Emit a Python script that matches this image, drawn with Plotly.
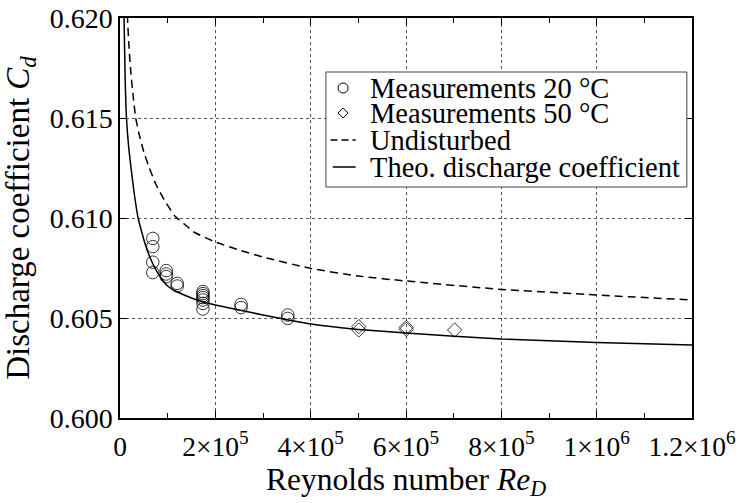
import plotly.graph_objects as go

# ---- data ----
re_20 = [68800, 68800, 68800, 68800,
         97000, 97000, 97000,
         120000, 120000,
         174000, 174000, 174000, 174000, 174000, 174000, 174000,
         254000, 254000,
         352000, 352000]
cd_20 = [0.60898, 0.60857, 0.60779, 0.60727,
         0.60737, 0.60720, 0.60707,
         0.60673, 0.60660,
         0.60632, 0.60622, 0.60612, 0.60602, 0.60590, 0.60573, 0.60545,
         0.60568, 0.60552,
         0.60515, 0.60498]

re_50 = [501000, 501000, 600600, 600600, 702000]
cd_50 = [0.60457, 0.60440, 0.60453, 0.60443, 0.60440]

re_und = [14000, 15700, 19000, 23000, 28000, 33000, 40000, 50000, 60000, 75000,
          93000, 115000, 135000, 155000, 200000, 250000, 300000, 400000, 500000,
          600000, 800000, 1000000, 1200000]
cd_und = [0.6208, 0.6200, 0.6185, 0.6172, 0.6160, 0.6150, 0.6142, 0.6133, 0.6126, 0.6117,
          0.6109, 0.6101, 0.6097, 0.6093, 0.6088, 0.6084, 0.60805, 0.60748, 0.6071,
          0.60685, 0.60643, 0.60615, 0.6059]

re_theo = [7500, 8500, 11000, 13600, 18000, 22700, 30000, 38000, 45000, 54000, 69000,
           86000, 100000, 121000, 150000, 200000, 250000, 300000, 400000, 500000,
           600000, 800000, 1000000, 1200000]
cd_theo = [0.6215, 0.6200, 0.6168, 0.6150, 0.6136, 0.6126, 0.6112, 0.6100, 0.60935, 0.6086, 0.6077,
           0.6070, 0.6066, 0.6063, 0.6060, 0.60565, 0.6054, 0.60515, 0.6047, 0.60443,
           0.60425, 0.60395, 0.60378, 0.60365]

x_tickvals = [0, 200000, 400000, 600000, 800000, 1000000, 1200000]
x_ticktext = ["0", "2×10<sup>5</sup>", "4×10<sup>5</sup>", "6×10<sup>5</sup>",
              "8×10<sup>5</sup>", "1×10<sup>6</sup>", "1.2×10<sup>6</sup>"]
y_tickvals = [0.600, 0.605, 0.610, 0.615, 0.620]
y_ticktext = ["0.600", "0.605", "0.610", "0.615", "0.620"]

legend_labels = ["Measurements 20 °C", "Measurements 50 °C", "Undisturbed",
                 "Theo. discharge coefficient"]

FONT = "Liberation Serif, Times New Roman, serif"

fig = go.Figure()
fig.add_trace(go.Scatter(x=re_20, y=cd_20, mode="markers", name=legend_labels[0],
                         marker=dict(symbol="circle-open", size=12.5, color="black",
                                     line=dict(width=0.8, color="black"))))
fig.add_trace(go.Scatter(x=re_50, y=cd_50, mode="markers", name=legend_labels[1],
                         marker=dict(symbol="diamond-open", size=11, color="black",
                                     line=dict(width=0.8, color="black"))))
fig.add_trace(go.Scatter(x=re_und, y=cd_und, mode="lines", name=legend_labels[2],
                         line=dict(color="black", width=1.5, dash="8px,5px",
                                   shape="spline", smoothing=0.5)))
fig.add_trace(go.Scatter(x=re_theo, y=cd_theo, mode="lines", name=legend_labels[3],
                         line=dict(color="black", width=1.5, shape="spline", smoothing=0.5)))

axis_common = dict(
    showline=True, linecolor="black", linewidth=1.5, mirror="ticks",
    ticks="inside", ticklen=7, tickcolor="black", tickwidth=1,
    showgrid=True, gridcolor="#555555", gridwidth=1, griddash="3px,3px",
    zeroline=False, automargin=False,
)

# ---- legend drawn as a boxed key (layout only) ----
leg_x0, leg_x1, leg_ytop, leg_ybot = 0.360, 0.991, 0.865, 0.5775
row_y = [0.825, 0.7625, 0.695, 0.6275]
sym_x = 0.390
text_x = 0.4336
shapes = [dict(type="rect", xref="paper", yref="paper", x0=leg_x0, x1=leg_x1,
               y0=leg_ybot, y1=leg_ytop, line=dict(color="#444444", width=1),
               fillcolor="white", layer="above")]
shapes.append(dict(type="circle", xref="paper", yref="paper", xsizemode="pixel",
                   ysizemode="pixel", xanchor=sym_x, yanchor=row_y[0],
                   x0=-5, x1=5, y0=-5, y1=5, line=dict(color="black", width=1),
                   layer="above"))
shapes.append(dict(type="path", xref="paper", yref="paper", xsizemode="pixel",
                   ysizemode="pixel", xanchor=sym_x, yanchor=row_y[1],
                   path="M 0 5 L 5 0 L 0 -5 L -5 0 Z",
                   line=dict(color="black", width=1), layer="above"))
shapes.append(dict(type="line", xref="paper", yref="paper", x0=0.368, x1=0.412,
                   y0=row_y[2], y1=row_y[2], line=dict(color="black", width=1.5, dash="7px,4px"),
                   layer="above"))
shapes.append(dict(type="line", xref="paper", yref="paper", x0=0.372, x1=0.412,
                   y0=row_y[3], y1=row_y[3], line=dict(color="black", width=1.5),
                   layer="above"))
annotations = [dict(text=t, xref="paper", yref="paper", x=text_x, y=yy, xanchor="left",
                    yanchor="middle", showarrow=False,
                    font=dict(family=FONT, size=28.5, color="black"))
               for t, yy in zip(legend_labels, row_y)]

fig.update_layout(
    width=739, height=503, autosize=False,
    margin=dict(l=120, r=47, t=18, b=85),
    paper_bgcolor="white", plot_bgcolor="white",
    font=dict(family=FONT, size=28, color="black"),
    showlegend=False,
    shapes=shapes, annotations=annotations,
    xaxis=dict(range=[0, 1200000], tickvals=x_tickvals, ticktext=x_ticktext,
               tickfont=dict(family=FONT, size=27.5, color="black"),
               ticklabelstandoff=3,
               minor=dict(dtick=100000, ticks="inside", ticklen=5, tickcolor="black", showgrid=False),
               title=dict(text="Reynolds number <i>Re</i><sub><i>D</i></sub>", standoff=4,
                          font=dict(family=FONT, size=31.5, color="black")),
               **axis_common),
    yaxis=dict(range=[0.600, 0.620], tickvals=y_tickvals, ticktext=y_ticktext,
               tickfont=dict(family=FONT, size=28, color="black"),
               title=dict(text="Discharge coefficient <i>C</i><sub><i>d</i></sub>", standoff=10,
                          font=dict(family=FONT, size=33, color="black")),
               **axis_common),
)

fig.write_html("out.html", config={"displayModeBar": False},
               post_script="document.body.style.margin='0';document.body.style.overflow='hidden';")
